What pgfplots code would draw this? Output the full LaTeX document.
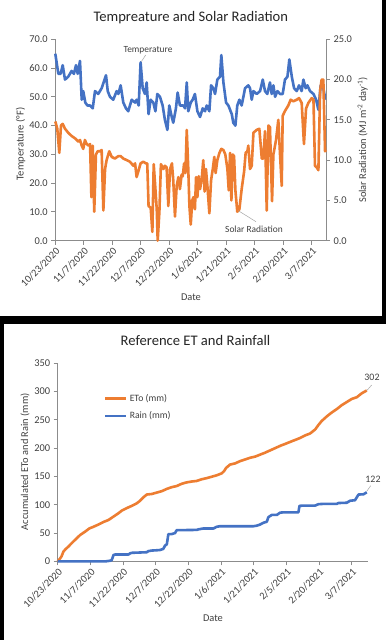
\documentclass[border=0pt]{standalone}
\usepackage{fontspec}
\setmainfont{Carlito}
\usepackage{pgfplots}
\pgfplotsset{compat=1.18}

\definecolor{exblue}{HTML}{4472C4}
\definecolor{exorange}{HTML}{ED7D31}
\definecolor{axgray}{HTML}{8C8C8C}
\definecolor{txt}{HTML}{404040}
\definecolor{ttl}{HTML}{262626}

\pgfplotsset{
  exstyle/.style={
    scale only axis, xmin=0, xmax=142.5,
    axis line style={axgray, line width=0.9pt},
    tick style={axgray, line width=0.9pt},
    tick align=outside, major tick length=4pt,
    tick label style={font=\fontsize{10.4}{12}\selectfont, text=txt},
    /pgf/number format/assume math mode=true,
    clip=false,
  },
  datex/.style={
    xtick={0,15,...,135},
    xticklabels={10/23/2020,11/7/2020,11/22/2020,12/7/2020,12/22/2020,1/6/2021,1/21/2021,2/5/2021,2/20/2021,3/7/2021},
    xticklabel style={rotate=45, anchor=north east, inner sep=1.5pt},
  },
}

\begin{document}
\begin{tikzpicture}[x=1pt,y=1pt]
\useasboundingbox (0,0) rectangle (386,640);
\fill[white] (0,0) rectangle (386,640);
\fill[black] (382,324) rectangle (386,640);
\fill[black] (0,316) rectangle (386,324);
\fill[black] (0,0) rectangle (4,316);

% ---- top chart: temperature (left axis)
\begin{axis}[exstyle, datex,
  at={(55.3pt,399.3pt)}, anchor=south west, width=270.7pt, height=201.4pt,
  axis x line*=bottom, axis y line*=left,
  ymin=0, ymax=70, ytick={0,10,...,70},
  yticklabel style={/pgf/number format/.cd, fixed, fixed zerofill, precision=1},
]
\addplot[exblue, line width=2.6pt, line join=round] coordinates {
(0,65) (1.6,58) (2.8,58) (3.9,61) (5.1,56) (6.8,57) (8.6,59) (9.8,58) (10.9,61) (11.8,58)
(13.0,62.5) (13.9,49) (14.7,52) (15.8,48) (16.9,47) (18.3,47) (19.7,46) (20.9,52) (22.6,51) (24.4,53)
(26.7,57.5) (27.6,52) (28.8,50) (30.5,49) (32.3,52) (33.2,51) (34.4,54) (35.8,48) (37.2,46) (38.4,45)
(40.2,49) (42.0,48) (42.8,49) (43.9,47) (44.9,62) (46.0,53) (47.2,51) (48.1,55) (49.1,44) (50.2,49)
(51.6,48) (52.7,45) (53.7,51) (55.1,50) (56.5,47) (57.7,42) (59.0,38.5) (60.0,47) (61.3,43) (62.1,41)
(63.5,46) (64.4,51.5) (65.6,47) (67.4,47) (68.3,46) (69.2,55) (70.0,45) (71.3,48) (72.3,49) (73.5,51)
(74.8,45) (76.2,43) (77.6,46) (78.8,45) (79.7,47) (81.1,45) (82.0,54) (83.2,53) (84.1,51) (85.3,56)
(86.7,57) (87.4,64.5) (88.5,55) (89.9,48) (91.1,47) (92.9,44) (93.7,41) (94.8,40) (95.8,47) (96.9,49)
(98.1,47) (99.9,53) (101.6,54) (102.5,53) (103.4,49) (104.3,52) (106.0,51) (107.8,52) (109.2,56) (110.4,52)
(111.6,51) (113.0,55) (113.9,51) (114.8,54) (115.7,50) (116.9,52) (118.3,51) (119.7,51) (120.9,56) (122.2,57)
(123.2,63) (124.5,57) (125.7,53) (127.1,52) (128.3,54) (129.7,52) (130.6,56) (131.8,53) (132.7,54) (134.1,52)
(135.9,51) (137.3,49) (138.5,45.5) (139.7,54) (141.1,53) (142.2,49)
};
\end{axis}

% ---- top chart: solar radiation (right axis)
\begin{axis}[exstyle,
  at={(55.3pt,399.3pt)}, anchor=south west, width=270.7pt, height=201.4pt,
  axis x line=none, axis y line*=right,
  ymin=0, ymax=25, ytick={0,5,...,25},
  yticklabel style={/pgf/number format/.cd, fixed, fixed zerofill, precision=1},
]
\addplot[exorange, line width=2.6pt, line join=round] coordinates {
(0,14.8) (1.05,13.9) (2.1,10.9) (3.0,14.3) (3.9,14.5) (5.1,13.9) (6.8,13.4) (8.6,13.0) (10.4,12.7) (12.1,12.3)
(13.0,12.5) (13.9,11.8) (14.7,11.4) (15.6,12.5) (16.5,12.0) (17.6,11.8) (18.3,12.0) (19.0,5.4) (19.7,11.8) (20.5,3.6)
(21.4,10.7) (22.3,11.1) (23.5,11.1) (24.4,11.25) (25.3,3.75) (26.2,8.9) (27.0,10.0) (28.4,11.1) (29.7,10.4) (31.4,10.2)
(33.2,10.5) (34.4,10.5) (35.8,10.2) (37.6,10.0) (39.3,9.8) (41.1,9.3) (42.0,9.6) (42.8,7.9) (43.7,8.6) (44.9,9.6)
(46.3,9.8) (47.7,9.6) (48.4,9.6) (49.1,4.3) (50.2,4.1) (51.1,1.1) (51.8,9.5) (52.5,7.1) (53.4,3.9) (53.9,0)
(54.8,3.6) (55.6,9.5) (56.9,8.9) (57.7,9.3) (58.6,9.1) (59.5,4.3) (60.4,8.9) (61.4,9.6) (62.1,7.5) (63.0,3.0)
(63.9,6.8) (64.8,7.9) (65.6,6.4) (66.5,8.2) (67.1,8.0) (67.8,9.6) (68.5,8.4) (69.2,13.75) (70.0,8.9) (70.6,4.3)
(71.3,2.0) (72.1,5.0) (72.7,5.4) (73.5,3.9) (74.1,7.9) (74.8,5.4) (75.5,8.0) (76.2,6.4) (77.1,7.7) (77.9,10.0)
(78.6,6.1) (79.3,8.9) (80.2,6.4) (81.1,3.4) (82.0,7.5) (82.9,8.9) (83.7,10.4) (84.4,8.4) (85.3,10.0) (86.4,10.9)
(87.4,11.4) (88.5,11.25) (89.5,10.7) (90.6,8.9) (91.3,6.25) (92.0,10.9) (92.7,5.0) (93.4,10.7) (94.1,10.5) (94.8,6.25)
(95.8,3.6) (96.9,3.9) (98.1,6.4) (99.4,8.6) (100.2,10.9) (101.1,11.1) (101.6,11.8) (102.5,8.9) (103.4,9.3) (104.3,13.4)
(106.0,13.75) (107.4,13.9) (108.7,10.2) (109.5,10.2) (110.4,13.6) (111.3,3.75) (112.2,14.3) (113.0,14.1) (114.1,4.9) (114.8,10.7)
(116.2,12.5) (117.4,15.0) (118.3,10.7) (119.2,6.8) (119.7,15.5) (120.9,16.1) (122.7,16.8) (123.9,17.5) (125.3,17.3) (127.1,17.5)
(128.3,17.7) (129.7,17.1) (130.9,12.0) (132.0,16.4) (133.2,17.1) (135.0,17.7) (135.9,17.5) (136.7,9.3) (137.6,9.1) (138.5,8.75)
(139.4,18.6) (140.2,20.0) (141.1,20.0) (142.0,11.1) (142.5,11.25)
};
\end{axis}

% ---- bottom chart: accumulated ETo and rain
\begin{axis}[exstyle, datex,
  at={(57.7pt,78.7pt)}, anchor=south west, width=310.4pt, height=198pt,
  axis x line*=bottom, axis y line*=left,
  ymin=0, ymax=350, ytick={0,50,...,350},
  legend style={at={(0.149,0.855)}, anchor=north west, draw=none, fill=none,
    inner sep=0pt, row sep=5pt, font=\fontsize{9.7}{11}\selectfont, text=txt,
    /tikz/every even column/.append style={column sep=0pt}},
  legend cell align=left,
  legend image code/.code={\draw[#1] (0pt,0pt) -- (21pt,0pt);},
]
\addplot[exorange, line width=2.6pt, line join=round] coordinates {
(0,0) (1.1,5) (1.8,9) (2.6,17) (3.5,21) (4.9,26) (6.4,32) (8.0,38) (10.3,46.5) (12.6,52.5)
(14.5,58) (16.4,61) (18.7,65) (21.0,69.5) (23.3,73) (25.6,79) (27.9,85) (29.4,89.5) (31.7,94) (34.0,98)
(36.3,102.5) (37.8,107) (39.3,113) (40.9,118) (43.2,119) (45.5,121.5) (47.8,124) (50.1,128) (52.3,131) (54.6,133)
(56.9,137) (59.2,139.5) (61.5,141) (63.8,142) (66.1,145) (68.4,147) (70.7,149.5) (73.0,152) (75.3,155.5) (76.4,159.5)
(77.3,165) (79.1,171) (81.4,173) (83.7,177) (86.0,180) (88.3,183) (90.6,185) (92.9,188.5) (95.2,192) (97.5,196)
(99.8,200) (102.1,204) (104.4,207.5) (106.7,211) (109.0,214.5) (111.3,218) (113.6,222.5) (115.9,226) (118.2,233) (119.7,241)
(121.2,248) (123.5,256) (125.8,263) (128.1,269) (130.4,276) (132.7,281.5) (135.0,287) (137.3,290) (139.6,297) (141.9,302)
};
\addlegendentry{ETo (mm)}
\addplot[exblue, line width=2.6pt, line join=round] coordinates {
(0,0) (22.2,0) (24.0,1) (24.8,2) (25.6,11) (26.3,12) (32.5,12) (33.2,14) (34.0,15) (40.9,16)
(41.6,18) (43.2,19) (45.5,19.5) (47.0,20) (48.5,22) (49.3,28) (50.1,30) (50.8,48) (52.3,48) (53.9,50)
(54.6,55) (63.8,55.5) (64.6,56.5) (66.9,58) (71.5,58) (73.0,61) (74.5,62) (89.8,62) (91.4,63) (92.9,65)
(94.4,68) (96.0,70) (96.7,78) (98.3,82) (100.6,82) (102.1,86) (103.6,86.5) (110.5,86.5) (111.0,98) (112.8,98.5)
(118.2,98.5) (119.7,101) (122.0,101.5) (128.1,101.5) (128.9,103) (132.7,103.5) (134.2,107) (136.5,108) (138.1,118) (140.4,118.5)
(141.9,122)
};
\addlegendentry{Rain (mm)}
\end{axis}

% ---- titles, axis titles and data callouts
\begin{scope}[every node/.style={text=txt, inner sep=0pt}]
\node[font=\fontsize{14.6}{17}\selectfont, text=ttl] at (190.8,622.7) {Tempreature and Solar Radiation};
\node[font=\fontsize{10.6}{12}\selectfont, rotate=90] at (20.7,496) {Temperature (°F)};
\node[font=\fontsize{10.4}{12}\selectfont, rotate=90] at (362.7,500) {Solar Radiation (MJ m\textsuperscript{-2} day\textsuperscript{-1})};
\node[font=\fontsize{10.4}{12}\selectfont] at (191,342.3) {Date};
\node[font=\fontsize{9.4}{11}\selectfont] at (148,589.3) {Temperature};
\draw[gray!70, line width=0.5pt] (145.7,585) -- (141.3,578.3);
\node[font=\fontsize{9.4}{11}\selectfont] at (254,411) {Solar Radiation};
\draw[gray!70, line width=0.5pt] (256,418.3) -- (238.3,429.3);

\node[font=\fontsize{14.6}{17}\selectfont, text=ttl] at (195.5,299.3) {Reference ET and Rainfall};
\node[font=\fontsize{10.4}{12}\selectfont, rotate=90] at (25,178.3) {Accumulated ETo and Rain (mm)};
\node[font=\fontsize{10.4}{12}\selectfont] at (213,21.7) {Date};
\node[font=\fontsize{9.9}{11}\selectfont] at (372,262.7) {302};
\draw[gray!70, line width=0.5pt] (371.7,255) -- (366.7,249.3);
\node[font=\fontsize{9.9}{11}\selectfont] at (373,160.7) {122};
\draw[gray!70, line width=0.5pt] (370.7,154.3) -- (366.7,148.7);
\end{scope}
\end{tikzpicture}
\end{document}
